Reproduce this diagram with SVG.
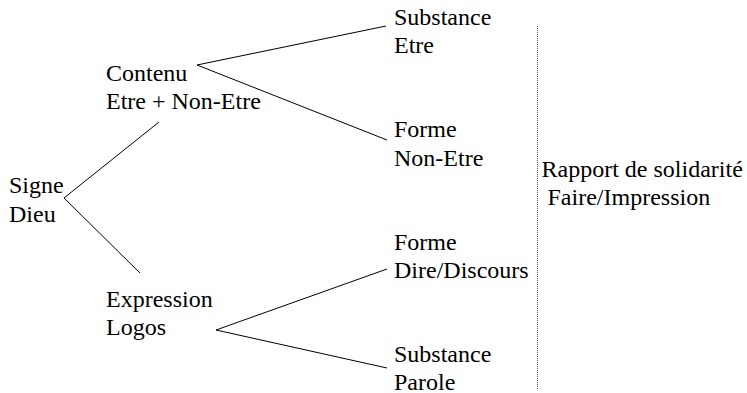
<svg xmlns="http://www.w3.org/2000/svg" width="747" height="393" viewBox="0 0 747 393">
<style>
text{font-family:'Liberation Serif','Times New Roman','DejaVu Serif',serif;font-size:24px;fill:#000}
.c{stroke:#000;stroke-width:1;fill:none}
.d{stroke:#555;stroke-width:1;stroke-dasharray:1 1;fill:none}
</style>
<rect width="747" height="393" fill="#fff"/>
<g id="connectors">
<line class="c" x1="64" y1="198" x2="159" y2="122"/>
<line class="c" x1="64" y1="198" x2="140" y2="273"/>
<line class="c" x1="197" y1="65" x2="386" y2="26"/>
<line class="c" x1="197" y1="65" x2="387" y2="140"/>
<line class="c" x1="216" y1="330" x2="387" y2="269"/>
<line class="c" x1="216" y1="330" x2="387" y2="368"/>
<line class="d" x1="537.5" y1="26" x2="537.5" y2="390"/>
</g>
<g id="signe"><text x="9" y="193">Signe</text><text x="9" y="222">Dieu</text></g>
<g id="contenu"><text x="106" y="81">Contenu</text><text x="106" y="109">Etre + Non-Etre</text></g>
<g id="expression"><text x="106" y="307">Expression</text><text x="106" y="335">Logos</text></g>
<g id="substance-etre"><text x="394" y="25">Substance</text><text x="394" y="53">Etre</text></g>
<g id="forme-nonetre"><text x="394" y="137">Forme</text><text x="394" y="165.5">Non-Etre</text></g>
<g id="forme-dire"><text x="394" y="250">Forme</text><text x="394" y="277.5">Dire/Discours</text></g>
<g id="substance-parole"><text x="394" y="361.5">Substance</text><text x="394" y="389.5">Parole</text></g>
<g id="rapport"><text x="541.5" y="176.5">Rapport de solidarité</text><text x="547.5" y="205">Faire/Impression</text></g>
</svg>
